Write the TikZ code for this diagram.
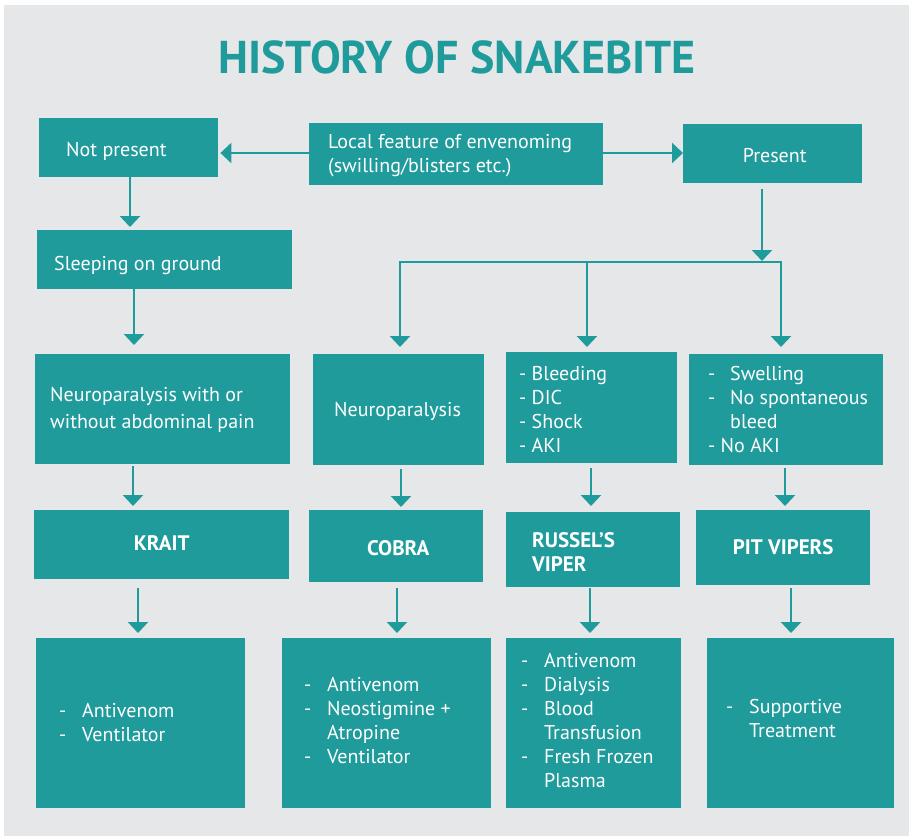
\documentclass[tikz,border=0pt]{standalone}
\usepackage{fontspec}
\setmainfont{PT Sans}
\usetikzlibrary{arrows.meta,calc}
\definecolor{teal1}{RGB}{31,155,156}
\definecolor{bg}{RGB}{230,231,233}
\tikzset{
  box/.style={fill=teal1, draw=none, inner sep=0pt, anchor=north west},
  txt/.style={text=white, font=\fontsize{20}{24}\selectfont, align=left, inner sep=0pt, anchor=west},
  btxt/.style={text=white, font=\bfseries\fontsize{21}{24}\selectfont, align=left, inner sep=0pt},
  conn/.style={draw=teal1, line width=2.6pt},
  arr/.style={conn, -{Triangle[width=20pt,length=11pt]}},
}
\newcommand{\dsh}{\makebox[23pt][l]{-}}
\newcommand{\dind}{\hspace*{23pt}}
\begin{document}
\begin{tikzpicture}[x=1pt,y=-1pt]
\useasboundingbox (0,0) rectangle (910,836);
\fill[white] (0,0) rectangle (910,836);
\fill[bg] (4,5) rectangle (909,836);
\node[text=teal1, font=\bfseries\fontsize{46}{50}\selectfont, inner sep=0pt, anchor=base] (title) at (457,73) {HISTORY OF SNAKEBITE};
% row 1
\node[box, minimum width=179pt, minimum height=59pt] (np) at (39,118) {};
\node[box, minimum width=294pt, minimum height=62pt] (lf) at (309,123) {};
\node[box, minimum width=179pt, minimum height=59pt] (pr) at (683,124) {};
\node[txt] at ([xshift=27pt,yshift=-4pt]np.west) {Not present};
\node[txt] at ([xshift=19pt,yshift=-1pt]lf.west) {Local feature of envenoming\\(swilling/blisters etc.)};
\node[txt, anchor=center] at ([xshift=2pt,yshift=-2pt]pr.center) {Present};
% row 2
\node[box, minimum width=255pt, minimum height=59pt] (sl) at (37,230) {};
\node[txt] at ([xshift=17pt,yshift=-6pt]sl.west) {Sleeping on ground};
% row 3
\node[box, minimum width=255pt, minimum height=110pt] (nw) at (35,354) {};
\node[box, minimum width=171pt, minimum height=111pt] (nc) at (313,354) {};
\node[box, minimum width=171pt, minimum height=111pt] (nr) at (506,352) {};
\node[box, minimum width=194pt, minimum height=111pt] (np2) at (689,354) {};
\node[txt, font=\fontsize{20}{27}\selectfont] at ([xshift=15pt,yshift=-1pt]nw.west) {Neuroparalysis with or\\without abdominal pain};
\node[txt] at ([xshift=21pt,yshift=-2pt]nc.west) {Neuroparalysis};
\node[txt] at ([xshift=13pt,yshift=-2pt]nr.west) {- Bleeding\\- DIC\\- Shock\\- AKI};
\node[txt] at ([xshift=19pt,yshift=0pt]np2.west) {\makebox[22pt][l]{-}Swelling\\\makebox[22pt][l]{-}No spontaneous\\\hspace*{22pt}bleed\\- No AKI};
% row 4
\node[box, minimum width=255pt, minimum height=69pt] (kr) at (34,510) {};
\node[box, minimum width=174pt, minimum height=72pt] (co) at (309,510) {};
\node[box, minimum width=174pt, minimum height=75pt] (rv) at (506,512) {};
\node[box, minimum width=174pt, minimum height=75pt] (pv) at (696,510) {};
\node[btxt, anchor=center] at ([yshift=2pt]kr.center) {KRAIT};
\node[btxt, anchor=center] at ([xshift=2pt,yshift=-2pt]co.center) {COBRA};
\node[btxt, anchor=west] at ([xshift=26pt,yshift=-2pt]rv.west) {RUSSEL’S\\VIPER};
\node[btxt, anchor=center] at ([xshift=0pt,yshift=1pt]pv.center) {PIT VIPERS};
% row 5
\node[box, minimum width=209pt, minimum height=170pt] (tk) at (36,638) {};
\node[box, minimum width=209pt, minimum height=170pt] (tc) at (282,638) {};
\node[box, minimum width=175pt, minimum height=170pt] (tr) at (506,638) {};
\node[box, minimum width=187pt, minimum height=170pt] (tp) at (707,638) {};
\node[txt] at ([xshift=23pt,yshift=1pt]tk.west) {\dsh Antivenom\\\dsh Ventilator};
\node[txt] at ([xshift=22pt,yshift=3pt]tc.west) {\dsh Antivenom\\\dsh Neostigmine +\\\dind Atropine\\\dsh Ventilator};
\node[txt] at ([xshift=15pt,yshift=3pt]tr.west) {\dsh Antivenom\\\dsh Dialysis\\\dsh Blood\\\dind Transfusion\\\dsh Fresh Frozen\\\dind Plasma};
\node[txt] at ([xshift=19pt,yshift=5pt]tp.west) {\dsh Supportive\\\dind Treatment};
% connectors
\draw[arr, shorten >=2pt] (lf.west |- 0,153) -- (np.east |- 0,153);
\draw[arr] (lf.east |- 0,153) -- (pr.west |- 0,153);
\draw[arr, shorten >=3pt] (np.south -| 130,0) -- (sl.north -| 130,0);
\draw[arr, shorten >=9pt] (sl.south -| 134,0) -- (nw.north -| 134,0);
\coordinate (jl) at (400,262);
\coordinate (jr) at (781,262);
\coordinate (jm) at (587,262);
\coordinate (jp) at (762,262);
\draw[conn] ([xshift=-1.3pt]jl) -- ([xshift=1.3pt]jr);
\draw[arr, shorten <=6pt, shorten >=1pt] (pr.south -| jp) -- (jp);
\draw[arr, shorten >=7pt] ([yshift=-1.3pt]jl) -- (jl |- nc.north);
\draw[arr, shorten >=5pt] ([yshift=-1.3pt]jm) -- (jm |- nr.north);
\draw[arr, shorten >=7pt] ([yshift=-1.3pt]jr) -- (jr |- np2.north);
\draw[arr, shorten <=2pt, shorten >=4pt] (nw.south -| 133,0) -- (kr.north -| 133,0);
\draw[arr, shorten <=4pt, shorten >=3pt] (nc.south -| 401,0) -- (co.north -| 401,0);
\draw[arr, shorten <=5pt, shorten >=6pt] (nr.south -| 591,0) -- (rv.north -| 591,0);
\draw[arr, shorten <=3pt, shorten >=4pt] (np2.south -| 785,0) -- (pv.north -| 785,0);
\draw[arr, shorten <=9pt, shorten >=5pt] (kr.south -| 138,0) -- (tk.north -| 138,0);
\draw[arr, shorten <=6pt, shorten >=5pt] (co.south -| 397,0) -- (tc.north -| 397,0);
\draw[arr, shorten <=1pt, shorten >=5pt] (rv.south -| 590,0) -- (tr.north -| 590,0);
\draw[arr, shorten <=3pt, shorten >=5pt] (pv.south -| 791,0) -- (tp.north -| 791,0);
\end{tikzpicture}
\end{document}
